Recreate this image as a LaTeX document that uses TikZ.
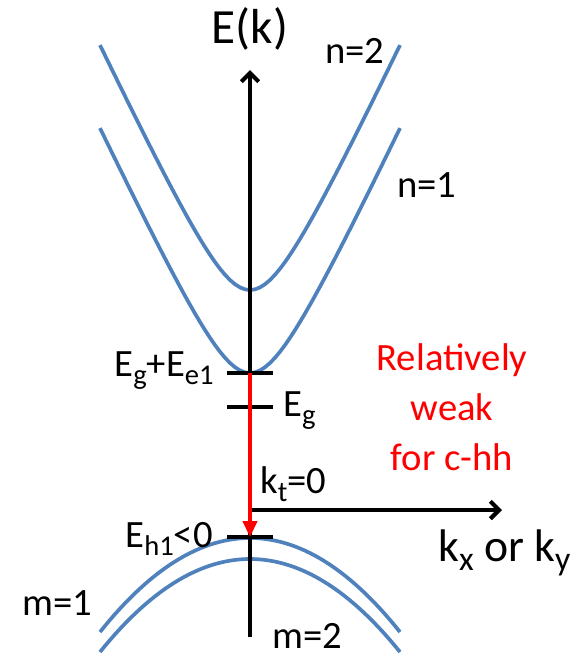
\documentclass[tikz,border=0pt]{standalone}
\usepackage{fontspec}
\setmainfont{Carlito}
\usepackage{tikz}
\usetikzlibrary{arrows.meta}
\definecolor{bandblue}{RGB}{79,129,189}
\newcommand{\lo}[1]{\raisebox{-0.45ex}{\scalebox{0.74}{#1}}}

\begin{document}
\begin{tikzpicture}[x=0.02cm,y=-0.02cm,>={Straight Barb[angle=90:7pt]},
    band/.style={draw=bandblue,line width=2.1pt},
    axis/.style={draw=black,line width=2.4pt},
    level/.style={fill=black,inner sep=0pt,minimum width=0.92cm,minimum height=0.08cm},
    lbl/.style={inner sep=0pt,font=\fontsize{22}{26}\selectfont},
    note/.style={inner sep=0pt,text=red,align=center,font=\fontsize{22}{28.5}\selectfont}]
  \useasboundingbox (0,0) rectangle (583,657);
  % subbands
  \draw[band] plot[domain=-150:150,samples=61] ({250+\x},{290-85*(sqrt(1+(\x/40)^2)-1)});
  \draw[band] plot[domain=-150:150,samples=61] ({250+\x},{373-85*(sqrt(1+(\x/40)^2)-1)});
  \draw[band] plot[domain=-150:150,samples=61] ({250+\x},{538+94*(\x/150)^2});
  \draw[band] plot[domain=-150:150,samples=61] ({250+\x},{559+93*(\x/150)^2});
  % axes
  \coordinate (vbot) at (250,637);
  \coordinate (vtop) at (250,70);
  \coordinate (orig) at (250,510);
  \coordinate (kend) at (502,510);
  \draw[axis,->] (vbot) -- (vtop);
  \draw[axis,->] (orig) -- (kend);
  \node[level] (ce1) at (250,373) {};
  \node[level] (eg) at (250,407) {};
  \node[level] (hh1) at (250,537) {};
  \draw[red,line width=2pt,-{Triangle[length=9pt,width=8pt]}] (ce1.center) -- (hh1.center);
  % labels
  \node[lbl,anchor=base,font=\fontsize{28}{32}\selectfont] (ek) at (250,43) {E(k)};
  \node[lbl,anchor=base west] (n2) at (325,63) {n=2};
  \node[lbl,anchor=base west] (n1) at (397,197) {n=1};
  \node[lbl,anchor=base east] (lce1) at (214,376) {E\lo{g}+E\lo{e1}};
  \node[lbl,anchor=base west] (leg) at (283,416) {E\lo{g}};
  \node[lbl,anchor=base west] (kt) at (260,493) {k\lo{t}=0};
  \node[lbl,anchor=base east] (lhh1) at (213,547) {E\lo{h1}<0};
  \node[lbl,anchor=base west,font=\fontsize{26}{30}\selectfont] (kxy) at (438,561) {k\lo{x} or k\lo{y}};
  \node[lbl,anchor=base west] (m1) at (22,615) {m=1};
  \node[lbl,anchor=base west] (m2) at (272,648) {m=2};
  \node[note] (weak) at (452,407) {Relatively\\weak\\for c-hh};
\end{tikzpicture}
\end{document}
